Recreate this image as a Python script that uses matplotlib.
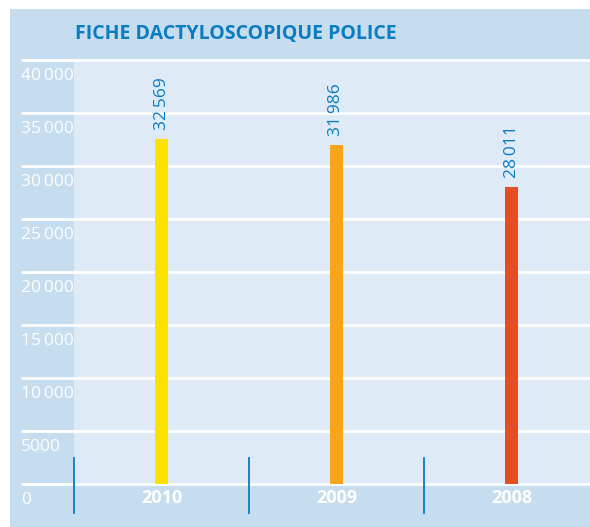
import matplotlib
matplotlib.use("Agg")
import matplotlib.pyplot as plt

plt.rcParams['font.family'] = ['Open Sans', 'DejaVu Sans']

title = "FICHE DACTYLOSCOPIQUE POLICE"
years = ["2010", "2009", "2008"]
values = [32569, 31986, 28011]
value_labels = ["32\u2009569", "31\u2009986", "28\u2009011"]
bar_colors = ["#ffe100", "#f9a51b", "#e84c22"]
yticks = [0, 5000, 10000, 15000, 20000, 25000, 30000, 35000, 40000]
ytick_labels = ["0", "5000", "10\u2009000", "15\u2009000", "20\u2009000",
                "25\u2009000", "30\u2009000", "35\u2009000", "40\u2009000"]

W, H = 590, 527
DARK = "#c6dcef"
LIGHT = "#deebf7"
BLUE = "#0a7cc2"

fig = plt.figure(figsize=(W / 100, H / 100), dpi=100, facecolor="white")
bg = fig.add_axes([10 / W, 0, 1 - 10 / W, 518 / H], zorder=-5)
bg.set_facecolor(DARK)
bg.set_xticks([])
bg.set_yticks([])
for s in bg.spines.values():
    s.set_visible(False)

ax_l, ax_r, ax_t, ax_b = 74, 590, 60, 484
ax = fig.add_axes([ax_l / W, (H - ax_b) / H, (ax_r - ax_l) / W, (ax_b - ax_t) / H], zorder=1)
ax.set_facecolor(LIGHT)
for s in ax.spines.values():
    s.set_visible(False)
ax.set_xticks([])
ax.set_yticks([])
ax.set_ylim(0, 40000)
slot = 175
ax.set_xlim(-0.5, -0.5 + (ax_r - ax_l) / slot)

px_per_unit = (ax_b - ax_t) / 40000.0

# gridlines extending to the left
gx0 = (21 - ax_l) / (ax_r - ax_l)
ytr = ax.get_yaxis_transform()
for v, lab in zip(yticks, ytick_labels):
    ax.plot([gx0, 1], [v, v], transform=ytr, color="white", lw=2,
            clip_on=False, zorder=2, solid_capstyle="butt")
    ax.annotate(lab, xy=(gx0, v), xycoords=ytr, xytext=(0, -20),
                textcoords="offset pixels", ha="left", va="baseline",
                color="white", fontsize=12.5, annotation_clip=False)

xs = list(range(len(years)))
ax.bar(xs, values, width=13 / slot, color=bar_colors, zorder=3)

for x, v, lab in zip(xs, values, value_labels):
    ax.annotate(lab, xy=(x, v), xytext=(0, 9), textcoords="offset pixels",
                rotation=90, ha="center", va="bottom", color=BLUE,
                fontsize=12.5, zorder=4)

# year labels
for x, y in zip(xs, years):
    ax.text(x, -(498 - ax_b) / px_per_unit, y, ha="center", va="center",
            color="white", fontsize=13, fontweight="bold", clip_on=False)

# separators
for x in [-0.5, 0.5, 1.5]:
    ax.plot([x, x], [(ax_b - 458) / px_per_unit, (ax_b - 513) / px_per_unit],
            color=BLUE, lw=1.3, clip_on=False, zorder=4)

fig.text(75 / W, 1 - 34 / H, title, ha="left", va="center", color=BLUE,
         fontsize=14, fontweight="bold")

fig.savefig("out.png", dpi=100, facecolor="white")
